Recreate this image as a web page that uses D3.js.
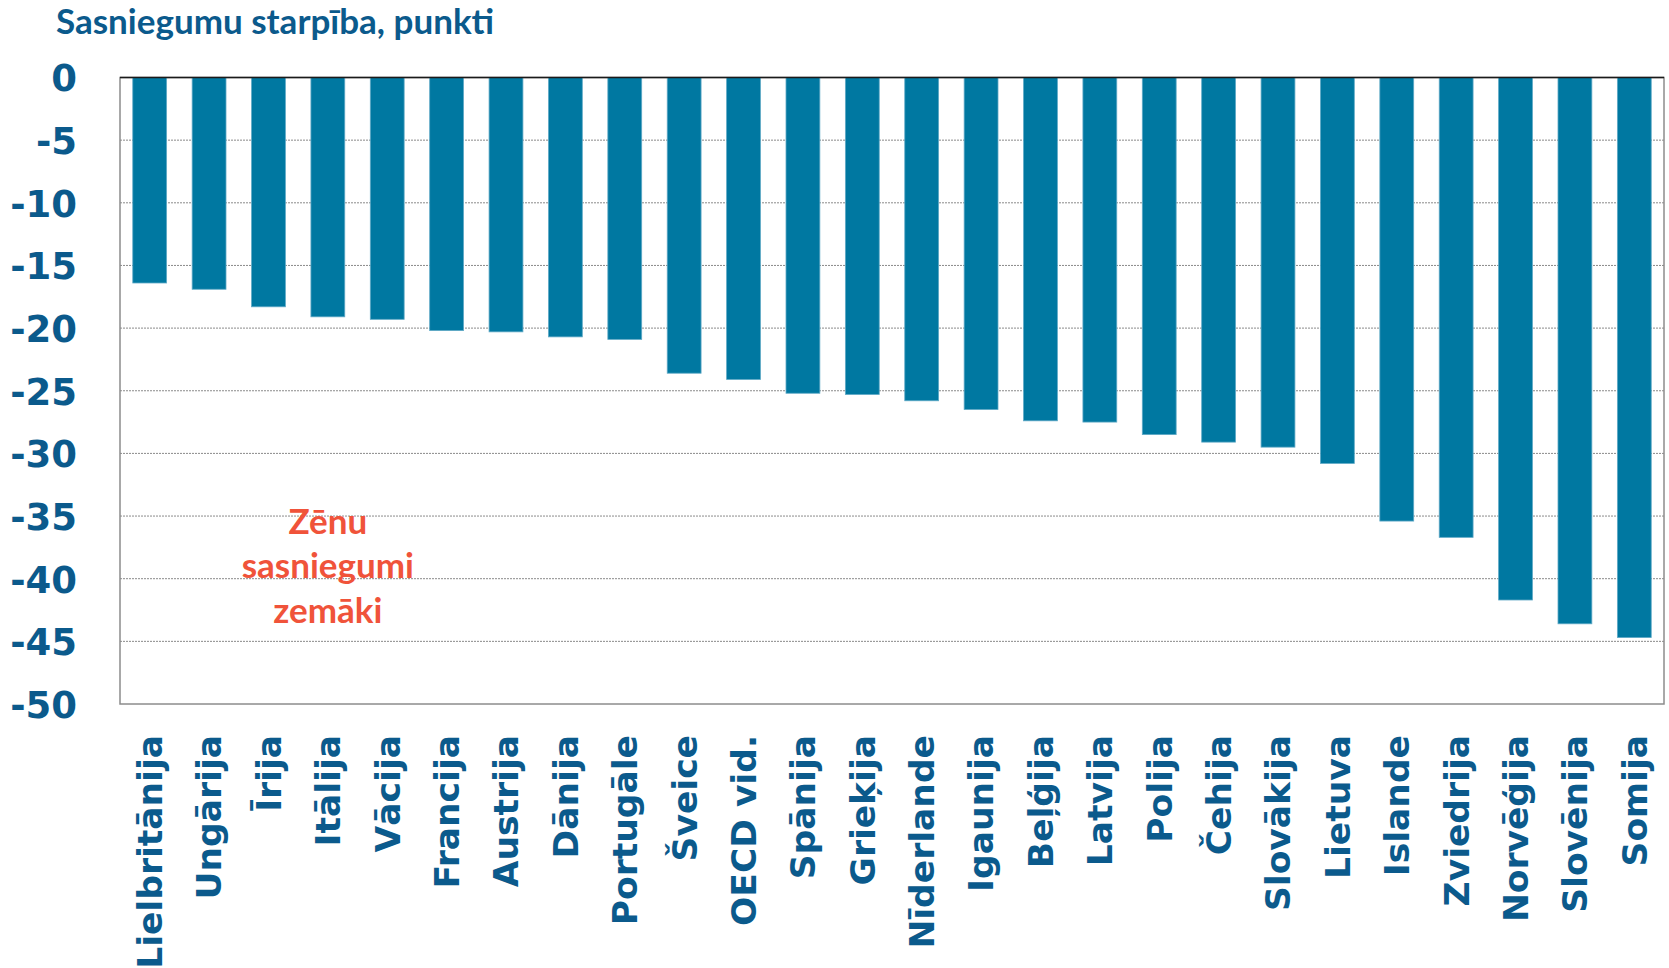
<!DOCTYPE html>
<html>
<head>
<meta charset="utf-8">
<script src="https://cdn.jsdelivr.net/npm/d3@7"></script>
<style>
  html, body { margin: 0; padding: 0; background: #fff; }
  svg { display: block; }
</style>
</head>
<body>
<div id="chart"></div>
<script>
const countries = ["Lielbritānija", "Ungārija", "Īrija", "Itālija", "Vācija", "Francija", "Austrija", "Dānija", "Portugāle", "Šveice", "OECD vid.", "Spānija", "Grieķija", "Nīderlande", "Igaunija", "Beļģija", "Latvija", "Polija", "Čehija", "Slovākija", "Lietuva", "Islande", "Zviedrija", "Norvēģija", "Slovēnija", "Somija"];
const gaps = [-16.4, -16.9, -18.3, -19.1, -19.3, -20.2, -20.3, -20.7, -20.9, -23.6, -24.1, -25.2, -25.3, -25.8, -26.5, -27.4, -27.5, -28.5, -29.1, -29.5, -30.8, -35.4, -36.7, -41.7, -43.6, -44.7];
const yTicks = [0, -5, -10, -15, -20, -25, -30, -35, -40, -45, -50];
const title = 'Sasniegumu starpība, punkti';
const note = ['Zēnu', 'sasniegumi', 'zemāki'];

const fullWidth = 1669;
const fullHeight = 968;
const margin = { top: 77.5, right: 5, bottom: 264, left: 120 };
const width = fullWidth - margin.left - margin.right;
const height = fullHeight - margin.top - margin.bottom;

const blue = '#0b5a8c';
const svg = d3.select('#chart')
  .append('svg')
  .attr('width', fullWidth)
  .attr('height', fullHeight);

svg.append('text')
  .attr('x', 56)
  .attr('y', 34)
  .attr('fill', blue)
  .style('font-family', 'Lato, "Open Sans", sans-serif')
  .style('font-weight', 'bold')
  .style('font-size', '35px')
  .text(title);

const g = svg.append('g')
  .attr('transform', `translate(${margin.left},${margin.top})`);

const xScale = d3.scaleBand()
  .domain(countries)
  .range([0, width])
  .paddingInner(0.43)
  .paddingOuter(0.215);

const yScale = d3.scaleLinear()
  .domain([0, -50])
  .range([0, height]);

// gridlines
g.append('g')
  .selectAll('line')
  .data(yTicks.filter(t => t < 0 && t > -50))
  .join('line')
  .attr('x1', 0)
  .attr('x2', width)
  .attr('y1', d => yScale(d))
  .attr('y2', d => yScale(d))
  .attr('stroke', '#8a8a8a')
  .attr('stroke-width', 1)
  .attr('stroke-dasharray', '2,1');

// frame
g.append('rect')
  .attr('x', 0)
  .attr('y', 0)
  .attr('width', width)
  .attr('height', height)
  .attr('fill', 'none')
  .attr('stroke', '#8c8c8c')
  .attr('stroke-width', 1.5);

// bars
g.append('g')
  .selectAll('rect')
  .data(countries)
  .join('rect')
  .attr('x', d => xScale(d))
  .attr('y', yScale(0))
  .attr('width', xScale.bandwidth())
  .attr('height', (d, i) => yScale(gaps[i]) - yScale(0))
  .attr('fill', '#0078a1')
  .attr('stroke', '#5fa9c6')
  .attr('stroke-width', 0.8);

// zero line
g.append('line')
  .attr('x1', 0)
  .attr('x2', width)
  .attr('y1', yScale(0))
  .attr('y2', yScale(0))
  .attr('stroke', '#1a1a1a')
  .attr('stroke-width', 1.5);

// y axis
const yAxis = d3.axisLeft(yScale)
  .tickValues(yTicks)
  .tickSize(0)
  .tickPadding(43)
  .tickFormat(d => String(d));

const yG = g.append('g').call(yAxis);
yG.select('.domain').remove();
yG.selectAll('text')
  .attr('fill', blue)
  .style('font-family', '"DejaVu Sans", Verdana, sans-serif')
  .style('font-weight', 'bold')
  .style('font-size', '37px')
  .attr('dy', '0.36em');

// x axis
const xAxis = d3.axisBottom(xScale)
  .tickSize(0)
  .tickPadding(0);

const xG = g.append('g')
  .attr('transform', `translate(0,${height})`)
  .call(xAxis);
xG.select('.domain').remove();
xG.selectAll('text')
  .attr('fill', blue)
  .style('font-family', '"DejaVu Sans", Verdana, sans-serif')
  .style('font-weight', 'bold')
  .style('font-size', '34.5px')
  .attr('text-anchor', 'end')
  .attr('transform', 'translate(0,31) rotate(-90)')
  .attr('x', 0)
  .attr('y', 0)
  .attr('dy', '0.36em');

// annotation
g.append('text')
  .attr('fill', '#f0533a')
  .attr('text-anchor', 'middle')
  .style('font-family', 'Lato, "Open Sans", sans-serif')
  .style('font-weight', 'bold')
  .style('font-size', '35px')
  .selectAll('tspan')
  .data(note)
  .join('tspan')
  .attr('x', xScale('Itālija') + xScale.bandwidth() / 2)
  .attr('y', (d, i) => yScale(-36.4 - i * 3.55))
  .text(d => d);
</script>
</body>
</html>
